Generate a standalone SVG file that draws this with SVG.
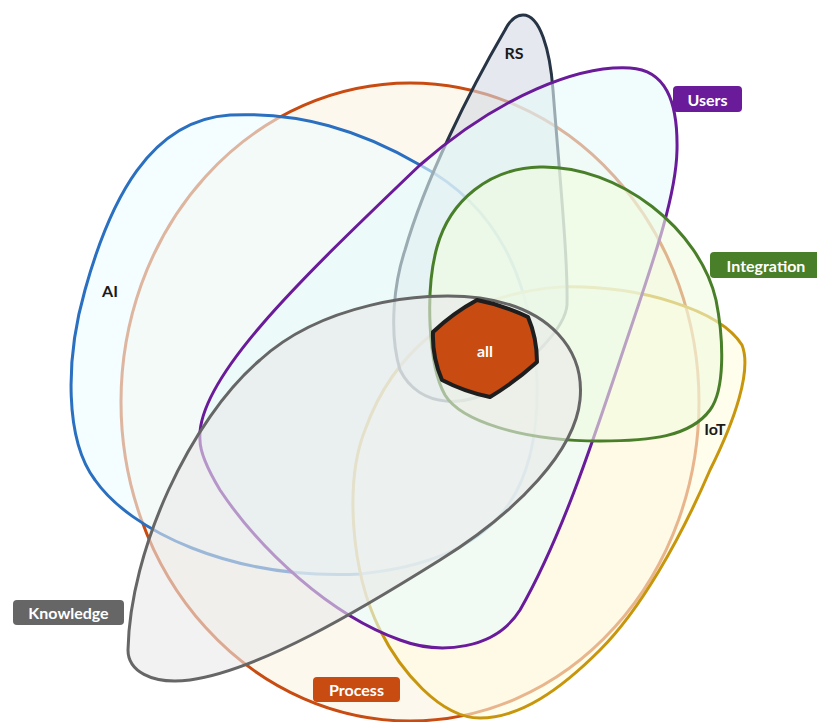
<svg xmlns="http://www.w3.org/2000/svg" width="817" height="722" viewBox="0 0 817 722">
<style>
.set{stroke-width:3;fill-opacity:0.6;stroke-linejoin:round}
.lbl{font-family:Lato,"Liberation Sans",sans-serif;font-size:16px;font-weight:700;text-anchor:middle;dominant-baseline:central}
.dark{fill:#1a1a1a}
.white{fill:#ffffff}
</style>
<rect width="817" height="722" fill="#ffffff"/>
<g id="Process">
<ellipse class="set" cx="410" cy="402" rx="289" ry="319" fill="#fcf3e3" stroke="#c84b11"/>
</g>
<g id="AI">
<path class="set" fill="#edfcff" stroke="#2a6fc0" d="M230,115 C300,112 360,130 420,165 C495,205 532,275 537,380 C540,490 500,560 360,574 C230,580 130,530 95,480 C65,440 65,360 85,290 C110,200 150,120 230,115 Z"/>
<text class="lbl dark" x="110" y="290">AI</text>
</g>
<g id="IoT">
<path class="set" fill="#fffcdf" stroke="#c8960c" d="M560,287 C640,285 720,310 742,345 C752,370 735,420 710,470 C680,540 640,610 600,650 C560,690 520,718 480,718 C440,718 400,670 380,630 C350,570 345,480 365,430 C390,360 450,295 560,287 Z"/>
<text class="lbl dark" x="715" y="428">IoT</text>
</g>
<g id="RS">
<path class="set" fill="#d3d8e2" stroke="#263445" d="M523,15 C540,15 550,50 553,90 C560,180 568,260 567,305 C565,330 530,360 500,385 C470,408 420,410 400,370 C388,330 395,280 405,250 C425,180 470,90 505,30 C510,20 516,15 523,15 Z"/>
<text class="lbl dark" x="514" y="52">RS</text>
</g>
<g id="Users">
<path class="set" fill="#e8fbfb" stroke="#6a1b9a" d="M200,440 C195,380 300,280 420,165 C500,95 580,65 630,68 C665,70 678,100 677,150 C676,200 650,270 620,360 C590,450 560,540 520,610 C495,650 440,655 400,640 C330,615 260,550 220,490 C205,465 200,450 200,440 Z"/>
<rect x="673" y="86" width="69" height="26" rx="4" fill="#6a1b9a"/>
<text class="lbl white" x="707.5" y="99">Users</text>
</g>
<g id="Integration">
<path class="set" fill="#f0fbdf" stroke="#4a7f2a" d="M437,247 C450,200 490,168 540,167 C620,165 700,230 716,300 C724,340 725,390 710,410 C690,437 650,441 600,441 C520,441 460,420 445,395 C428,365 425,290 437,247 Z"/>
<rect x="710" y="252" width="110" height="26" rx="4" fill="#4a7f2a"/>
<text class="lbl white" x="766" y="265">Integration</text>
</g>
<g id="Knowledge">
<path class="set" fill="#eaeaea" stroke="#666666" d="M128,650 C130,550 190,420 260,360 C320,305 420,290 480,298 C550,308 585,350 580,400 C575,450 520,510 440,560 C360,610 260,670 190,680 C150,685 128,670 128,650 Z"/>
<rect x="13" y="600" width="111" height="25" rx="4" fill="#666666"/>
<text class="lbl white" x="68.5" y="612.5">Knowledge</text>
</g>
<g id="ProcessLabel">
<rect x="313" y="677" width="87" height="25" rx="4" fill="#c84b11"/>
<text class="lbl white" x="356.5" y="689.5">Process</text>
</g>
<g id="all">
<path fill="#c84b11" stroke="#1e1e1e" stroke-width="4" stroke-linejoin="round" d="M477,300 Q503,305 528,317 Q537,338 537,362 Q515,382 490,397 Q465,392 442,380 Q432,357 433,332 Q453,313 477,300 Z"/>
<text class="lbl white" x="485" y="350">all</text>
</g>
<g id="connectors"></g>
</svg>
